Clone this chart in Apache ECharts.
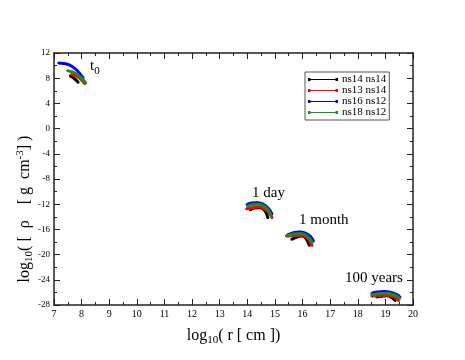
<!DOCTYPE html>
<html>
<head>
<meta charset="utf-8">
<script src="https://cdn.jsdelivr.net/npm/echarts@6/dist/echarts.min.js"></script>
<style>
  html, body { margin: 0; padding: 0; background: #fff; }
  #chart { width: 465px; height: 360px; }
</style>
</head>
<body>
<div id="chart"></div>
<script>
// density profiles at four epochs (t0, 1 day, 1 month, 100 years), null = gap between epochs
const SERIES_NAMES = ['ns14 ns14', 'ns13 ns14', 'ns16 ns12', 'ns18 ns12'];
const COLORS = ['#000000', '#ff0000', '#0000ff', '#1a8f1a'];

const r_ns14ns14   = [7.58, 7.70, 7.80, 7.88, null, 14.10, 14.25, 14.45, 14.62, 14.75, null, 15.60, 15.80, 15.97, 16.12, 16.25, null, 18.68, 18.85, 19.05, 19.22, 19.36];
const rho_ns14ns14 = [8.40, 8.05, 7.70, 7.30, null, -12.95, -12.60, -12.55, -12.95, -14.20, null, -17.60, -17.20, -17.05, -17.40, -18.60, null, -26.75, -26.60, -26.55, -26.80, -27.35];

const r_ns13ns14   = [7.62, 7.80, 7.95, 8.12, null, 13.96, 14.15, 14.40, 14.60, 14.78, 14.90, null, 15.40, 15.60, 15.85, 16.10, 16.25, 16.35, null, 18.50, 18.75, 19.00, 19.25, 19.40, 19.48];
const rho_ns13ns14 = [8.60, 8.35, 7.95, 7.10, null, -12.75, -12.60, -12.45, -12.70, -13.30, -14.20, null, -17.05, -17.00, -16.95, -17.15, -17.80, -18.60, null, -26.60, -26.50, -26.45, -26.60, -26.90, -27.35];

const r_ns16ns12   = [7.16, 7.35, 7.55, 7.75, 7.92, 8.06, null, 13.98, 14.15, 14.35, 14.55, 14.75, 14.90, null, 15.45, 15.65, 15.90, 16.10, 16.28, 16.40, null, 18.50, 18.70, 18.95, 19.20, 19.40, 19.54];
const rho_ns16ns12 = [10.40, 10.35, 10.10, 9.55, 8.80, 8.00, null, -12.10, -11.80, -11.75, -11.95, -12.60, -13.60, null, -16.90, -16.55, -16.40, -16.60, -17.10, -17.90, null, -26.15, -25.95, -25.85, -26.00, -26.30, -26.80];

const r_ns18ns12   = [7.48, 7.65, 7.82, 7.98, 8.16, null, 14.00, 14.20, 14.40, 14.60, 14.75, 14.86, null, 15.43, 15.65, 15.90, 16.10, 16.25, 16.35, null, 18.50, 18.75, 19.00, 19.25, 19.42, 19.52];
const rho_ns18ns12 = [9.20, 9.00, 8.65, 8.10, 7.20, null, -12.40, -12.05, -12.00, -12.30, -12.90, -13.85, null, -17.05, -16.75, -16.65, -16.85, -17.40, -18.20, null, -26.40, -26.20, -26.15, -26.30, -26.60, -27.00];

const X_RANGE = [7, 20];
const Y_RANGE = [-28, 12];

const SERIF = '"Liberation Serif", "DejaVu Serif", serif';

function pairs(xs, ys) {
  return xs.map((x, i) => (x === null ? [null, null] : [x, ys[i]]));
}

const chart = echarts.init(document.getElementById('chart'), null, { renderer: 'canvas' });

const allData = [
  pairs(r_ns14ns14, rho_ns14ns14),
  pairs(r_ns13ns14, rho_ns13ns14),
  pairs(r_ns16ns12, rho_ns16ns12),
  pairs(r_ns18ns12, rho_ns18ns12)
];

const axisLine = { show: true, onZero: false, lineStyle: { color: '#222', width: 1.5 } };
const tick = { show: true, inside: true, length: 6, lineStyle: { color: '#222', width: 1 } };
const minor = { show: true, splitNumber: 2, length: 3, lineStyle: { color: '#222', width: 1 } };

const sub = {
  n: { fontFamily: SERIF, fontSize: 16, lineHeight: 20, color: '#000' },
  s: { fontFamily: SERIF, fontSize: 11, lineHeight: 20, verticalAlign: 'bottom', color: '#000' },
  p: { fontFamily: SERIF, fontSize: 11, lineHeight: 20, verticalAlign: 'top', color: '#000' }
};

const option = {
  animation: false,
  backgroundColor: '#fff',
  grid: { left: 54, right: 52, top: 53, bottom: 55 },
  legend: {
    data: SERIES_NAMES,
    orient: 'vertical',
    left: 305,
    top: 72,
    padding: [2, 3, 2, 3],
    itemGap: 0,
    itemWidth: 30,
    itemHeight: 4,
    icon: 'path://M0,1.5H30V2.5H0Z M0,0.5H2.5V3.5H0Z M27.5,0.5H30V3.5H27.5Z',
    borderColor: '#555',
    borderWidth: 1,
    borderRadius: 0,
    selectedMode: false,
    textStyle: { fontFamily: SERIF, fontSize: 11, lineHeight: 11, color: '#000', padding: [0, 0, 0, -1] }
  },
  xAxis: [{
    type: 'value', min: X_RANGE[0], max: X_RANGE[1], interval: 1,
    axisLine, axisTick: tick, minorTick: minor, splitLine: { show: false },
    axisLabel: { fontFamily: SERIF, fontSize: 10, color: '#000', margin: 4 },
    name: '{n|log}{s|10}{n|( r [ cm ])}',
    nameLocation: 'middle', nameGap: 21,
    nameTextStyle: { rich: sub }
  }, {
    type: 'value', position: 'top', min: X_RANGE[0], max: X_RANGE[1], interval: 1,
    axisLine, axisTick: tick, minorTick: minor, splitLine: { show: false },
    axisLabel: { show: false }
  }],
  yAxis: [{
    type: 'value', min: Y_RANGE[0], max: Y_RANGE[1], interval: 4,
    axisLine, axisTick: tick, minorTick: minor, splitLine: { show: false },
    axisLabel: { fontFamily: SERIF, fontSize: 9, color: '#000', margin: 4 }
  }, {
    type: 'value', position: 'right', min: Y_RANGE[0], max: Y_RANGE[1], interval: 4,
    axisLine, axisTick: tick, minorTick: minor, splitLine: { show: false },
    axisLabel: { show: false }
  }],
  graphic: [
    {
      type: 'text', x: 25, y: 209, rotation: Math.PI / 2,
      style: {
        text: '{n|log}{s|10}{n|( [  ρ    [ g  cm}{p|-3}{n|] )}',
        rich: sub, align: 'center', verticalAlign: 'middle'
      }
    },
    {
      type: 'text', left: 90, top: 59,
      style: { text: '{n|t}{s|0}', rich: {
        n: { fontFamily: SERIF, fontSize: 15, lineHeight: 20, color: '#000' },
        s: { fontFamily: SERIF, fontSize: 11, lineHeight: 20, verticalAlign: 'bottom', color: '#000' }
      } }
    },
    { type: 'text', left: 252, top: 186, style: { text: '1 day', font: '15px ' + SERIF, fill: '#000' } },
    { type: 'text', left: 299, top: 213, style: { text: '1 month', font: '15px ' + SERIF, fill: '#000' } },
    { type: 'text', left: 345, top: 271, style: { text: '100 years', font: '15px ' + SERIF, fill: '#000' } }
  ],
  series: allData.map((d, i) => ({
    name: SERIES_NAMES[i],
    type: 'line',
    data: d,
    smooth: true,
    connectNulls: false,
    symbol: 'rect',
    symbolSize: 2,
    showSymbol: true,
    color: COLORS[i],
    lineStyle: { color: COLORS[i], width: 3 },
    itemStyle: { color: COLORS[i] },
    z: 2 + i
  }))
};

chart.setOption(option);
</script>
</body>
</html>
